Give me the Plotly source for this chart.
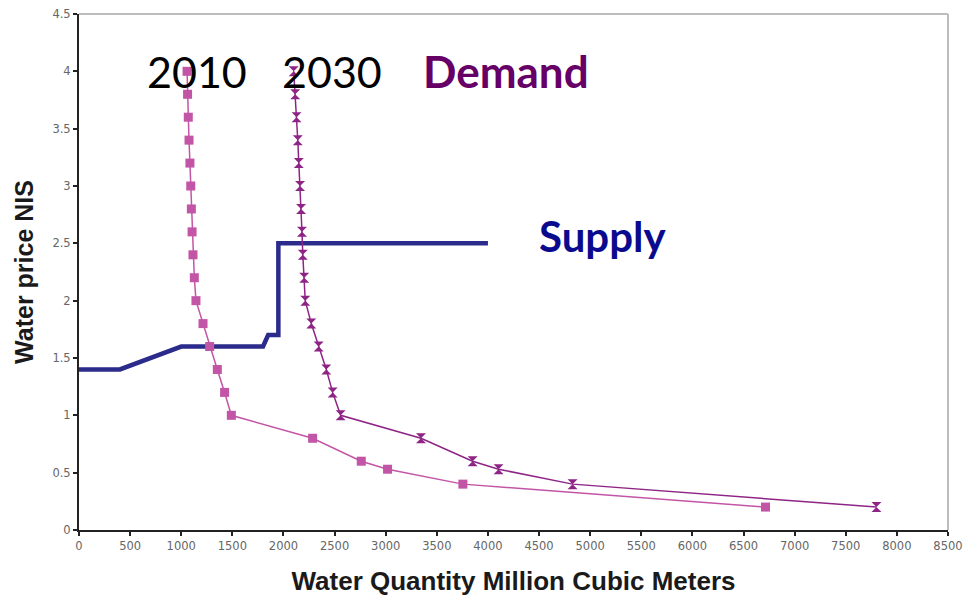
import plotly.graph_objects as go

# Demand curves: price (NIS) vs. quantity (million m^3)
price_2010 = [4.0, 3.8, 3.6, 3.4, 3.2, 3.0, 2.8, 2.6, 2.4, 2.2, 2.0, 1.8, 1.6, 1.4, 1.2, 1.0, 0.8, 0.6, 0.53, 0.4, 0.2]
qty_2010 = [1057, 1062, 1069, 1076, 1085, 1093, 1099, 1106, 1115, 1128, 1144, 1213, 1278, 1353, 1424, 1490, 2285, 2761, 3018, 3755, 6715]

price_2030 = [4.0, 3.8, 3.6, 3.4, 3.2, 3.0, 2.8, 2.6, 2.4, 2.2, 2.0, 1.8, 1.6, 1.4, 1.2, 1.0, 0.8, 0.6, 0.53, 0.4, 0.2]
qty_2030 = [2100, 2115, 2128, 2140, 2150, 2162, 2172, 2181, 2189, 2203, 2213, 2272, 2344, 2419, 2481, 2559, 3345, 3850, 4104, 4828, 7800]

# Supply step curve
supply_qty = [0, 400, 1000, 1800, 1850, 1950, 1950, 4000]
supply_price = [1.4, 1.4, 1.6, 1.6, 1.7, 1.7, 2.5, 2.5]

x_ticks = list(range(0, 8501, 500))
y_ticks = [0, 0.5, 1, 1.5, 2, 2.5, 3, 3.5, 4, 4.5]

fig = go.Figure()

fig.add_trace(go.Scatter(
    x=supply_qty, y=supply_price, mode="lines",
    line=dict(color="#2B2B8C", width=4.5),
    showlegend=False,
))
fig.add_trace(go.Scatter(
    x=qty_2010, y=price_2010, mode="lines+markers",
    line=dict(color="#C355A6", width=1.5),
    marker=dict(symbol="square", size=9, color="#C355A6"),
    showlegend=False,
))
fig.add_trace(go.Scatter(
    x=qty_2030, y=price_2030, mode="lines+markers",
    line=dict(color="#8E2586", width=1.5),
    marker=dict(symbol="hourglass", size=10, color="#8E2586"),
    showlegend=False,
))

axis_common = dict(
    showgrid=False, zeroline=False, showline=True, automargin=False,
    linecolor="#222222", linewidth=2,
    ticks="outside", ticklen=4, tickwidth=1.5, tickcolor="#222222",
    tickfont=dict(family="DejaVu Sans", size=11.5, color="#666666"),
)

fig.update_xaxes(
    range=[0, 8500], tickvals=x_ticks, ticktext=[str(v) for v in x_ticks],
    title=dict(text="<b>Water Quantity Million Cubic Meters</b>",
               font=dict(family="Liberation Sans", size=26, color="#1a1a1a"),
               standoff=21),
    **axis_common,
)
fig.update_yaxes(
    range=[0, 4.5], tickvals=y_ticks, ticktext=[f"{v:g}" for v in y_ticks],
    title=dict(text="<b>Water price NIS</b>",
               font=dict(family="Liberation Sans", size=25, color="#1a1a1a"),
               standoff=12),
    **axis_common,
)

# grey frame on the top and right sides of the plot area
fig.add_shape(type="line", xref="paper", yref="paper", x0=0, x1=1, y0=1, y1=1,
              line=dict(color="#BDBDBD", width=2))
fig.add_shape(type="line", xref="paper", yref="paper", x0=1, x1=1, y0=0, y1=1,
              line=dict(color="#BDBDBD", width=2))

fig.add_annotation(text="2010", x=1150, y=4.0, xref="x", yref="y", showarrow=False,
                   font=dict(family="Lato", size=43, color="#000000"))
fig.add_annotation(text="2030", x=2475, y=4.0, xref="x", yref="y", showarrow=False,
                   font=dict(family="Lato", size=43, color="#000000"))
fig.add_annotation(text="<b>Demand</b>", x=4180, y=4.0, xref="x", yref="y", showarrow=False,
                   font=dict(family="Lato", size=44, color="#660066"))
fig.add_annotation(text="<b>Supply</b>", x=5120, y=2.56, xref="x", yref="y", showarrow=False,
                   font=dict(family="Lato", size=42, color="#0A0A8F"))

fig.update_layout(
    width=963, height=596,
    margin=dict(l=79, r=15, t=14, b=66),
    paper_bgcolor="white", plot_bgcolor="white",
)

fig.write_html("out.html")
